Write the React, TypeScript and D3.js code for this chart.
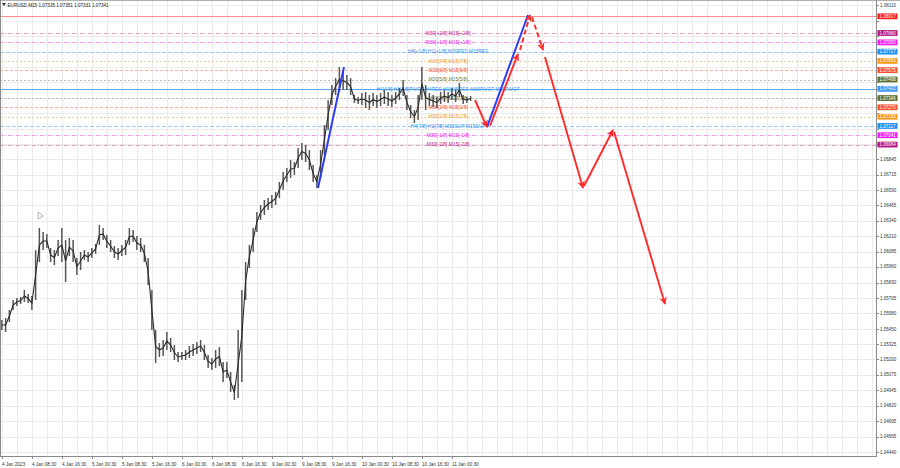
import React from "react";
import * as d3 from "d3";

const W = 900;
const H = 468;

// ---------- data ----------
const titleText = "EURUSD,M15  1.07335 1.07351 1.07331 1.07341";

const priceTicks = [
  1.0444, 1.04565, 1.04695, 1.0482, 1.04945, 1.05075, 1.052, 1.05325, 1.0545, 1.0558,
  1.05705, 1.0583, 1.0596, 1.06085, 1.0621, 1.0634, 1.06465, 1.0659, 1.06715, 1.06845,
  1.0697, 1.07095, 1.0722, 1.07345, 1.07475, 1.076, 1.07725, 1.07855, 1.0798, 1.0811,
];

// trading-hour index (weekend removed) counted from 4 Jan 2023 00:00
const timeLabelHours = [0.5, 8.5, 16.5, 24.5, 32.5, 40.5, 48.5, 56.5, 64.5, 72.5, 80.5, 88.5, 96.5, 104.5, 112.5, 120.5];
const timeLabels = [
  "4 Jan 2023", "4 Jan 08:30", "4 Jan 16:30", "5 Jan 00:30", "5 Jan 08:30", "5 Jan 16:30",
  "6 Jan 00:30", "6 Jan 08:30", "6 Jan 16:30", "9 Jan 00:30", "9 Jan 08:30", "9 Jan 16:30",
  "10 Jan 00:30", "10 Jan 08:30", "10 Jan 16:30", "11 Jan 00:30",
];

// hourly high / low
const barHigh = [
  1.05524, 1.0554, 1.05606, 1.05688, 1.05704, 1.05713, 1.0577, 1.05737, 1.05721, 1.06098,
  1.06279, 1.06246, 1.0623, 1.06115, 1.06098, 1.06181, 1.06279, 1.06181, 1.06197, 1.06181,
  1.06033, 1.06082, 1.06098, 1.06082, 1.06115, 1.06148, 1.06304, 1.06279, 1.06222, 1.06181,
  1.06131, 1.06115, 1.0614, 1.06181, 1.06279, 1.06263, 1.06213, 1.06197, 1.0614, 1.06033,
  1.0577, 1.05442, 1.05335, 1.0536, 1.05425, 1.05376, 1.05319, 1.05261, 1.05261, 1.05277,
  1.0531, 1.05327, 1.05343, 1.0536, 1.05319, 1.05236, 1.05212, 1.05277, 1.05302, 1.05179,
  1.05179, 1.05097, 1.0499, 1.05442, 1.0577, 1.06, 1.0614, 1.06279, 1.06411, 1.06468,
  1.06509, 1.06525, 1.0655, 1.06575, 1.06657, 1.06739, 1.06772, 1.06837, 1.06821, 1.06936,
  1.06977, 1.06961, 1.06919, 1.06796, 1.06714, 1.06919, 1.07125, 1.0733, 1.07453, 1.0751,
  1.076, 1.0756, 1.07535, 1.0751, 1.07371, 1.07355, 1.07387, 1.07396, 1.07371, 1.07387,
  1.07371, 1.07387, 1.07412, 1.07396, 1.07371, 1.07396, 1.07429, 1.07494, 1.07371, 1.07289,
  1.07248, 1.07371, 1.076, 1.07453, 1.07387, 1.07371, 1.07355, 1.07396, 1.07412, 1.07396,
  1.07429, 1.07412, 1.0747, 1.07371, 1.07355, 1.07363,
];
const barLow = [
  1.05442, 1.05425, 1.05507, 1.05606, 1.05639, 1.05655, 1.05672, 1.05663, 1.05606, 1.05688,
  1.06, 1.06098, 1.06115, 1.06, 1.05975, 1.06049, 1.06, 1.05836, 1.06049, 1.06,
  1.05893, 1.05934, 1.06016, 1.06, 1.06033, 1.06066, 1.0614, 1.06181, 1.06115, 1.06082,
  1.06033, 1.06016, 1.06049, 1.06057, 1.0614, 1.06164, 1.06098, 1.06082, 1.06, 1.05811,
  1.05442, 1.05171, 1.0522, 1.05228, 1.05277, 1.05261, 1.05195, 1.05179, 1.05195, 1.05195,
  1.05212, 1.05228, 1.05245, 1.05261, 1.05195, 1.0513, 1.05113, 1.0513, 1.05146, 1.05015,
  1.05048, 1.04933, 1.04867, 1.04883, 1.05015, 1.05688, 1.05951, 1.06082, 1.06246, 1.06345,
  1.06386, 1.06427, 1.06443, 1.06468, 1.06525, 1.06591, 1.06657, 1.0669, 1.06714, 1.06772,
  1.06837, 1.06821, 1.06755, 1.06657, 1.06608, 1.0669, 1.06878, 1.07084, 1.07289, 1.07371,
  1.07396, 1.07412, 1.07412, 1.07371, 1.07305, 1.07297, 1.07289, 1.07264, 1.07248, 1.07281,
  1.07264, 1.07281, 1.07297, 1.07281, 1.07273, 1.07297, 1.0733, 1.07363, 1.07248, 1.07182,
  1.07141, 1.07166, 1.0733, 1.07248, 1.07281, 1.07273, 1.07264, 1.07297, 1.07314, 1.07305,
  1.0733, 1.07314, 1.07355, 1.07297, 1.07305, 1.07322,
];

// horizontal levels
const levelPrices = [1.08017, 1.0788, 1.07803, 1.07727, 1.07651, 1.07575, 1.07498, 1.07422, 1.07346, 1.0727, 1.07193, 1.07117, 1.07041, 1.06964];
const levelKinds = ["target", "p2", "p1", "res", "o", "r", "g", "pivot", "g", "r", "o", "res", "p1", "p2"];
const levelTexts = [
  "",
  "M30[+2/8] M15[+2/8]",
  "M30[+1/8] M15[+1/8]",
  "H4[+1/8] H1[+1/8] M30RES M15RES",
  "M30[7/8] M15[7/8]",
  "M30[6/8] M15[6/8]",
  "M30[5/8] M15[5/8]",
  "H4[4/8] H1[4/8]PIVOT H4RES H1[3/8]RES M30PIVOT M15PIVOT",
  "M30[3/8] M15[3/8]",
  "M30[2/8] M15[2/8]",
  "M30[1/8] M15[1/8]",
  "H4[7/8] H1[7/8] M30SUP M15SUP",
  "M30[-1/8] M15[-1/8]",
  "M30[-2/8] M15[-2/8]",
];

// trend lines (hour index, price)
const blueHours = [[84.8, 91.73], [129.87, 140.8]];
const bluePrices = [[1.06608, 1.076], [1.07108, 1.08028]];

const redHours = [
  [126.67, 129.87], [130.67, 138.13], [138.67, 141.33], [141.87, 144.8],
  [145.33, 155.47], [155.73, 163.47], [163.73, 177.33],
];
const redPrices = [
  [1.0733, 1.07108], [1.07117, 1.07708], [1.07741, 1.08028], [1.0801, 1.07741],
  [1.07683, 1.06608], [1.06624, 1.07084], [1.07069, 1.05655],
];
const redDashed = [false, false, true, true, false, false, false];

const markerHour = 10.7;
const markerPrice = 1.06378;

// ---------- styles ----------
const KIND_STYLE: Record<string, { line: string; dash: string | null; box: string; text: string }> = {
  target: { line: "#ff8a8a", dash: null, box: "#ff1a1a", text: "#ff1a1a" },
  p2: { line: "#e29ccc", dash: "4 1.5 1 1.5", box: "#b4167f", text: "#c21b88" },
  p1: { line: "#f59cf5", dash: "4 1.5 1 1.5", box: "#f21bf2", text: "#e31ee3" },
  res: { line: "#9ccbf5", dash: "4 2", box: "#2290f0", text: "#2a8ff0" },
  o: { line: "#f7cd9c", dash: "2 2", box: "#f89a1c", text: "#f09a30" },
  r: { line: "#f8ae9e", dash: "3 2", box: "#f5502a", text: "#f0552e" },
  g: { line: "#bdbdab", dash: "2 2", box: "#5d7033", text: "#6d7f3f" },
  pivot: { line: "#5aa8f5", dash: null, box: "#3a95ee", text: "#3c97ef" },
};

const FONT = "'Liberation Sans', Arial, sans-serif";
const PLOT_R = 876;
const PLOT_B = 456;
const BOX_H = 5.8;

export default function App() {
  const x = d3.scaleLinear().domain([0, 240]).range([0, 900]);
  const y = d3.scaleLinear().domain([1.0444, 1.0811]).range([452, 5]);

  const gridHours = d3.range(0.5, 233, 4);
  const mid = barHigh.map((h, i) => [x(i + 0.5), y((h + barLow[i]) / 2)] as [number, number]);
  const midLine = d3.line()(mid) || "";

  // axis labels hidden behind the coloured level boxes
  const visibleTicks = priceTicks.filter(
    (p) => !levelPrices.some((lp) => Math.abs(y(lp) - y(p)) < 5.6)
  );

  return (
    <svg
      width={W}
      height={H}
      style={{ position: "fixed", left: 0, top: 0, background: "#fff" }}
      fontFamily={FONT}
    >
      <defs>
        <marker id="ahr" viewBox="0 0 10 10" refX="9" refY="5" markerWidth="4" markerHeight="4" orient="auto">
          <path d="M0,0 L10,5 L0,10 L3,5 z" fill="#ff2b2b" />
        </marker>
        <clipPath id="plot">
          <rect x={0} y={0} width={PLOT_R} height={PLOT_B} />
        </clipPath>
      </defs>
      <rect x={0} y={0} width={W} height={H} fill="#fff" />

      {/* grid */}
      <g clipPath="url(#plot)">
        {priceTicks.map((p, i) => (
          <line key={"hg" + i} x1={0} x2={PLOT_R} y1={Math.round(y(p)) + 0.5} y2={Math.round(y(p)) + 0.5} stroke="#ebebeb" />
        ))}
        {gridHours.map((h, i) => (
          <line key={"vg" + i} x1={Math.round(x(h)) + 0.5} x2={Math.round(x(h)) + 0.5} y1={0} y2={PLOT_B} stroke="#ebebeb" />
        ))}
      </g>

      {/* level lines */}
      {levelPrices.map((p, i) => {
        const s = KIND_STYLE[levelKinds[i]];
        const yy = Math.round(y(p)) + 0.5;
        return (
          <line key={"lv" + i} x1={0} x2={PLOT_R} y1={yy} y2={yy} stroke={s.line} strokeWidth={1}
            strokeDasharray={s.dash || undefined} />
        );
      })}

      {/* level texts */}
      {levelPrices.map((p, i) => {
        const s = KIND_STYLE[levelKinds[i]];
        if (!levelTexts[i]) return null;
        return (
          <text key={"lt" + i} x={x(119.5)} y={y(p)} dy="0.35em" fontSize={4.9} fill={s.text} textAnchor="middle">
            {levelTexts[i]}
          </text>
        );
      })}

      {/* price bars */}
      <g>
        {barHigh.map((h, i) => (
          <line key={"b" + i} x1={x(i + 0.5)} x2={x(i + 0.5)} y1={y(h)} y2={y(barLow[i])} stroke="#555" strokeWidth={1.5} />
        ))}
        <path d={midLine} fill="none" stroke="#2a2a2a" strokeWidth={1.1} />
      </g>

      {/* hollow arrow marker */}
      <path
        d={`M${x(markerHour) - 2},${y(markerPrice) - 4} L${x(markerHour) + 3},${y(markerPrice)} L${x(markerHour) - 2},${y(markerPrice) + 3} Z`}
        fill="none" stroke="#9a9a9a" strokeWidth={0.8}
      />

      {/* blue lines */}
      {blueHours.map((hs, i) => (
        <line key={"bl" + i} x1={x(hs[0])} y1={y(bluePrices[i][0])} x2={x(hs[1])} y2={y(bluePrices[i][1])}
          stroke="#2d3cf5" strokeWidth={2} />
      ))}

      {/* red projection */}
      {redHours.map((hs, i) => (
        <line key={"rl" + i} x1={x(hs[0])} y1={y(redPrices[i][0])} x2={x(hs[1])} y2={y(redPrices[i][1])}
          stroke="#ff2b2b" strokeWidth={1.9} strokeDasharray={redDashed[i] ? "5 3" : undefined} markerEnd="url(#ahr)" />
      ))}

      {/* frame */}
      <line x1={0} x2={W} y1={0.5} y2={0.5} stroke="#b0b0b0" />
      <line x1={0.5} x2={0.5} y1={0} y2={PLOT_B} stroke="#8a8a8a" />
      <line x1={PLOT_R + 0.5} x2={PLOT_R + 0.5} y1={0} y2={PLOT_B} stroke="#8a8a8a" />
      <line x1={0} x2={PLOT_R + 1} y1={PLOT_B + 0.5} y2={PLOT_B + 0.5} stroke="#8a8a8a" />

      {/* right axis */}
      {priceTicks.map((p, i) => (
        <line key={"ptk" + i} x1={PLOT_R} x2={PLOT_R + 3} y1={Math.round(y(p)) + 0.5} y2={Math.round(y(p)) + 0.5} stroke="#8a8a8a" />
      ))}
      {visibleTicks.map((p, i) => (
        <text key={"pt" + i} x={880} y={y(p)} dy="0.35em" fontSize={4.5} fill="#333">{p.toFixed(5)}</text>
      ))}
      {levelPrices.map((p, i) => {
        const s = KIND_STYLE[levelKinds[i]];
        return (
          <g key={"pl" + i}>
            <rect x={877.5} y={y(p) - BOX_H / 2} width={20} height={BOX_H} fill={s.box} />
            <text x={879.5} y={y(p)} dy="0.35em" fontSize={4.5} fill="#fff">{p.toFixed(5)}</text>
          </g>
        );
      })}

      {/* bottom axis */}
      {timeLabelHours.map((h, i) => (
        <g key={"tl" + i}>
          <line x1={Math.round(x(h)) + 0.5} x2={Math.round(x(h)) + 0.5} y1={PLOT_B} y2={PLOT_B + 3} stroke="#8a8a8a" />
          <text x={x(h)} y={464} dy="0.35em" fontSize={4.7} fill="#333">{timeLabels[i]}</text>
        </g>
      ))}

      {/* title */}
      <path d="M2,3 L6,3 L4,6 Z" fill="#333" />
      <text x={7.5} y={7} fontSize={4.6} fill="#222">{titleText}</text>
    </svg>
  );
}
